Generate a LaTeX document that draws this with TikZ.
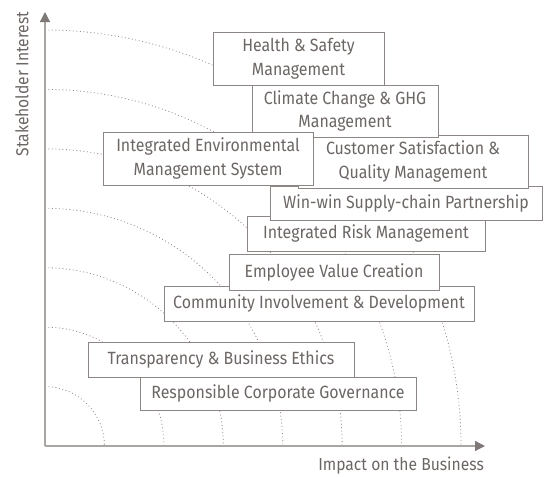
\documentclass[tikz,border=0pt]{standalone}
\usepackage{fontspec}
\setmainfont[FakeStretch=0.9]{Fira Sans}
\usetikzlibrary{arrows.meta}
\definecolor{txtc}{HTML}{6C6765}
\definecolor{boxc}{HTML}{8C8785}
\definecolor{axc}{HTML}{A9A5A3}
\definecolor{tipc}{HTML}{7E7977}
\definecolor{arcc}{HTML}{8F8A88}
\tikzset{
  topic/.style={draw=boxc, fill=white, line width=0.9pt, text=txtc, inner sep=0pt,
    align=center, font=\fontsize{17.7}{23.5}\selectfont},
  axisline/.style={draw=axc, line width=1.2pt, -{Triangle[length=10pt,width=10pt,color=tipc]}},
  ring/.style={draw=arcc, line width=0.8pt, dash pattern=on 0.9pt off 2.6pt},
  axlabel/.style={text=txtc, inner sep=0pt, font=\fontsize{17.4}{19}\selectfont}
}
\begin{document}
\begin{tikzpicture}[x=1pt,y=-1pt]
\useasboundingbox (0,0) rectangle (544,477);
\coordinate (O) at (45,446);
\coordinate (ytip) at (45,12);
\coordinate (xtip) at (485,446);
% dotted quarter circles
\foreach \k in {1,...,7}{
  \draw[ring] (O) ++(0,-59.43*\k) arc[start angle=-90, end angle=0, radius=59.43*\k];
}
% axes
\draw[axisline] (O) -- (ytip);
\draw[axisline] (O) -- (xtip);
\node[axlabel, rotate=90] (ylab) at (22,84) {Stakeholder Interest};
\node[axlabel, anchor=east] (xlab) at (484,466) {Impact on the Business};
% topic boxes (drawn back to front)
\node[topic, minimum width=276pt, minimum height=33pt] (rcg) at (278,393.5) {Responsible Corporate Governance};
\node[topic, minimum width=266pt, minimum height=35pt] (tbe) at (221,359.5) {Transparency \& Business Ethics};
\node[topic, minimum width=310pt, minimum height=35pt] (cid) at (319,303.5) {Community Involvement \& Development};
\node[topic, minimum width=210pt, minimum height=36pt] (evc) at (334,272.5) {Employee Value Creation};
\node[topic, minimum width=238pt, minimum height=35pt] (irm) at (366,233.5) {Integrated Risk Management};
\node[topic, minimum width=272pt, minimum height=34pt] (wsp) at (406,203) {Win-win Supply-chain Partnership};
\node[topic, minimum width=230pt, minimum height=53pt] (csq) at (413,161.5) {Customer Satisfaction \&\\Quality Management};
\node[topic, minimum width=186pt, minimum height=52pt] (ccg) at (345,111) {Climate Change \& GHG\\Management};
\node[topic, minimum width=171pt, minimum height=53pt] (hsm) at (298.5,58.5) {Health \& Safety\\Management};
\node[topic, minimum width=210pt, minimum height=53pt] (iem) at (208,158.5) {Integrated Environmental\\Management System};
\end{tikzpicture}
\end{document}
